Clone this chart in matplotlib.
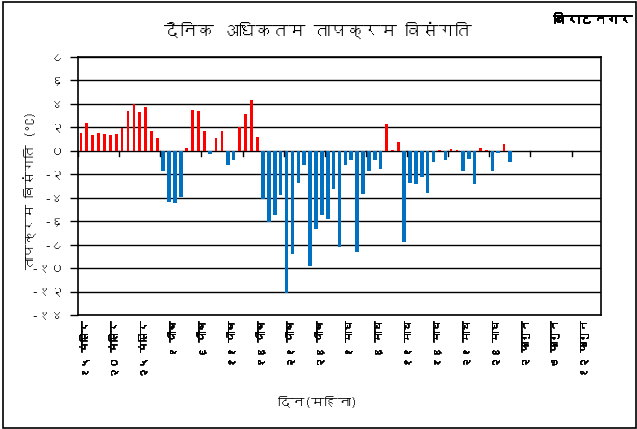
import numpy as np
import matplotlib
matplotlib.use("Agg")
import matplotlib.pyplot as plt
import matplotlib.patheffects as pe
from matplotlib import font_manager as fm
from matplotlib.ft2font import FT2Font
from matplotlib.patches import Rectangle

# ---------------- data ----------------
title_text = "दैनिक अधिकतम तापक्रम विसंगति"
station = "बिराटनगर"
ylabel_text = "तापक्रम विसंगति (°C)"
xlabel_text = "दिन(महिना)"

x_labels = ["१५ मंसिर", "२० मंसिर", "२५ मंसिर", "१ पौष", "६ पौष", "११ पौष",
            "१६ पौष", "२१ पौष", "२६ पौष", "१ माघ", "६ माघ", "११ माघ",
            "१६ माघ", "२१ माघ", "२६ माघ", "२ फागुन", "७ फागुन", "१२ फागुन"]
y_ticks = [8, 6, 4, 2, 0, -2, -4, -6, -8, -10, -12, -14]
y_tick_labels = ["८", "६", "४", "२", "०", "-२", "-४", "-६", "-८", "-१०", "-१२", "-१४"]

n_days = 89
anomaly = [1.53, 2.41, 1.32, 1.50, 1.41, 1.32, 1.41, 1.97, 3.42, 4.03,
           3.33, 3.74, 1.65, 1.09, -1.76, -4.38, -4.44, -3.97, 0.26, 3.51,
           3.42, 1.65, -0.30, 1.09, 1.65, -1.19, -0.81, 2.03, 3.10, 4.35,
           1.20, -4.10, -6.08, -5.50, -3.78, -12.15, -8.78, -2.75, -1.19, -9.86,
           -6.64, -5.50, -5.84, -3.24, -8.17, -1.19, -0.81, -8.60, -3.68, -1.76,
           -0.81, -1.59, 2.26, 0.05, 0.76, -7.75, -2.75, -2.85, -2.26, -3.59,
           -0.99, 0.05, -0.81, 0.15, 0.03, -1.68, -0.72, -2.85, 0.26, 0.04,
           -1.76, -0.22, 0.56, -0.99]

# ---------------- fonts ----------------
def find_font(chars):
    for f in fm.fontManager.ttflist:
        try:
            cmap = FT2Font(f.fname).get_charmap()
        except Exception:
            continue
        if all(ord(c) in cmap for c in chars):
            return f.name
    return None

deva = find_font("कखमि०")
families = ([deva] if deva else []) + ["DejaVu Sans"]
plt.rcParams["font.family"] = families
bold_fx = [pe.withStroke(linewidth=0.7, foreground="black")]

# ---------------- figure ----------------
fig = plt.figure(figsize=(6.37, 4.29), dpi=100)
ax = fig.add_axes([78 / 637, 1 - 315 / 429, (601 - 78) / 637, (315 - 57) / 429])

vals = np.full(n_days, np.nan)
vals[:len(anomaly)] = anomaly
x = np.arange(n_days)
pos = np.where(vals > 0, vals, np.nan)
neg = np.where(vals <= 0, vals, np.nan)
ax.bar(x, pos, width=0.45, color="#FF0000", zorder=3)
ax.bar(x, neg, width=0.6, color="#0070C0", zorder=3)

ax.set_xlim(-0.5, n_days - 0.5)
ax.set_ylim(-14, 8)
ax.set_yticks(y_ticks)
ax.set_yticklabels(y_tick_labels, fontsize=9.5)
ax.tick_params(axis="y", length=6, width=1, direction="out", pad=4)

for yv in y_ticks:
    ax.axhline(yv, color="black", lw=1.0, zorder=1)

# category tick marks on the zero line
for k in range(0, n_days + 1, 7):
    ax.plot([k - 0.5, k - 0.5], [0, -0.4], color="black", lw=1, zorder=4,
            clip_on=False)

ax.set_xticks([])
for i, lab in enumerate(x_labels):
    ax.text(5 * i + 0.6, -14.5, lab, rotation=90, ha="center", va="top",
            fontsize=7.5, fontweight="bold", color="black",
            path_effects=[pe.withStroke(linewidth=0.5, foreground="black")])

for s in ax.spines.values():
    s.set_color("black")
    s.set_linewidth(1.2)

fig.text(318 / 637, 1 - 30 / 429, title_text, ha="center", va="center",
         fontsize=12)
fig.text(0.993, 1 - 20 / 429, station, ha="right", va="center",
         fontsize=9.5, fontweight="bold", path_effects=bold_fx)
fig.text(30 / 637, 1 - 190 / 429, ylabel_text, rotation=90, ha="center",
         va="center", fontsize=9.5)
fig.text(318 / 637, 1 - 402 / 429, xlabel_text, ha="center", va="center",
         fontsize=9.5)

fig.patches.append(Rectangle((0.004, 0.003), 0.995, 0.993,
                             transform=fig.transFigure, fill=False,
                             edgecolor="black", lw=1.2))

fig.savefig("out.png", dpi=100)
